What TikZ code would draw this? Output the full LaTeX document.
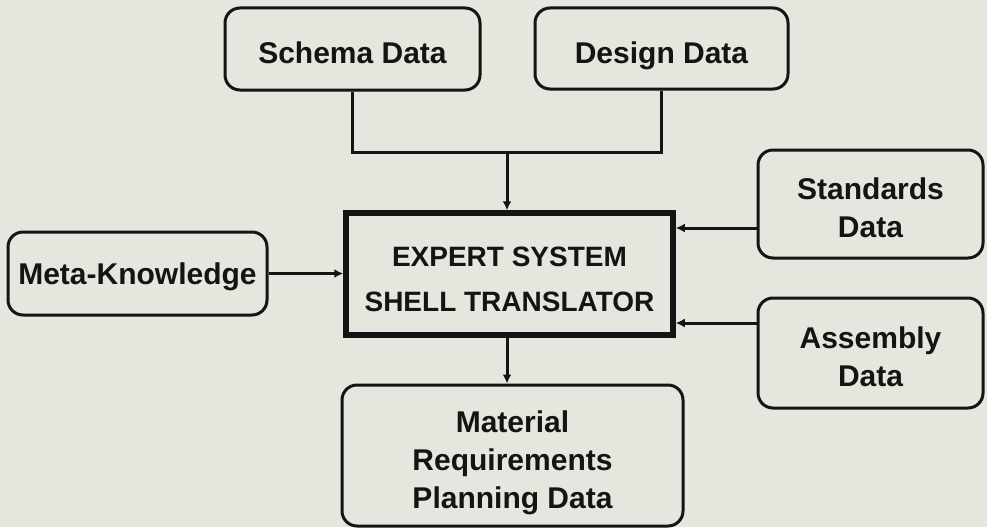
\documentclass[tikz,border=0pt]{standalone}
\usepackage{fontspec}
\setmainfont{Liberation Sans}
\usetikzlibrary{arrows.meta}
\definecolor{bgc}{RGB}{229,230,222}
\definecolor{ink}{RGB}{20,20,20}
\newcommand\topstrut{\rule{0pt}{36.5pt}}
\newcommand\metastrut{\rule{0pt}{28.5pt}}
\newcommand\botstrut{\rule[-7pt]{0pt}{7pt}}
\begin{document}
\begin{tikzpicture}[x=1pt,y=-1pt,
  txt/.style={font=\bfseries\fontsize{30}{38}\selectfont, align=center, text=ink},
  rbox/.style={txt, draw=ink, line width=3pt, rounded corners=15pt, inner sep=0pt},
  mainbox/.style={txt, font=\bfseries\fontsize{28}{45}\selectfont, draw=ink, line width=5.5pt, inner sep=0pt},
  conn/.style={draw=ink, line width=3pt},
  arr/.style={conn, -{Latex[length=9pt,width=9pt]}}]
\useasboundingbox[fill=bgc] (0,0) rectangle (987,527);
\node[rbox, minimum width=255pt, minimum height=82pt] (schema) at (352.5,49) {\topstrut Schema Data\botstrut};
\node[rbox, minimum width=253pt, minimum height=81pt] (design) at (661.5,48.5) {\topstrut Design Data\botstrut};
\node[mainbox, minimum width=327pt, minimum height=122pt] (center) at (509.5,274) {\topstrut EXPERT SYSTEM\\SHELL TRANSLATOR\botstrut};
\node[rbox, minimum width=225pt, minimum height=108pt] (stand) at (870.5,204) {\topstrut Standards\\Data\botstrut};
\node[rbox, minimum width=225pt, minimum height=110pt] (assem) at (870.5,353) {\topstrut Assembly\\Data\botstrut};
\node[rbox, minimum width=259pt, minimum height=83pt] (meta) at (137.5,273.5) {\metastrut Meta-Knowledge\botstrut};
\node[rbox, minimum width=341pt, minimum height=141pt] (mrp) at (512.5,455.5) {\topstrut Material\\Requirements\\Planning Data\botstrut};
\coordinate (join) at (507,152);
\draw[conn] (schema.south) |- (join) -| (design.south);
\draw[arr] (join) -- (join |- center.north);
\draw[arr] ([yshift=-24pt]stand.west) -- ([yshift=-24pt]stand.west -| center.east);
\draw[arr] ([yshift=30pt]assem.west) -- ([yshift=30pt]assem.west -| center.east);
\draw[arr] (meta.east) -- (meta.east -| center.west);
\draw[arr] (join |- center.south) -- (join |- mrp.north);
\end{tikzpicture}
\end{document}
